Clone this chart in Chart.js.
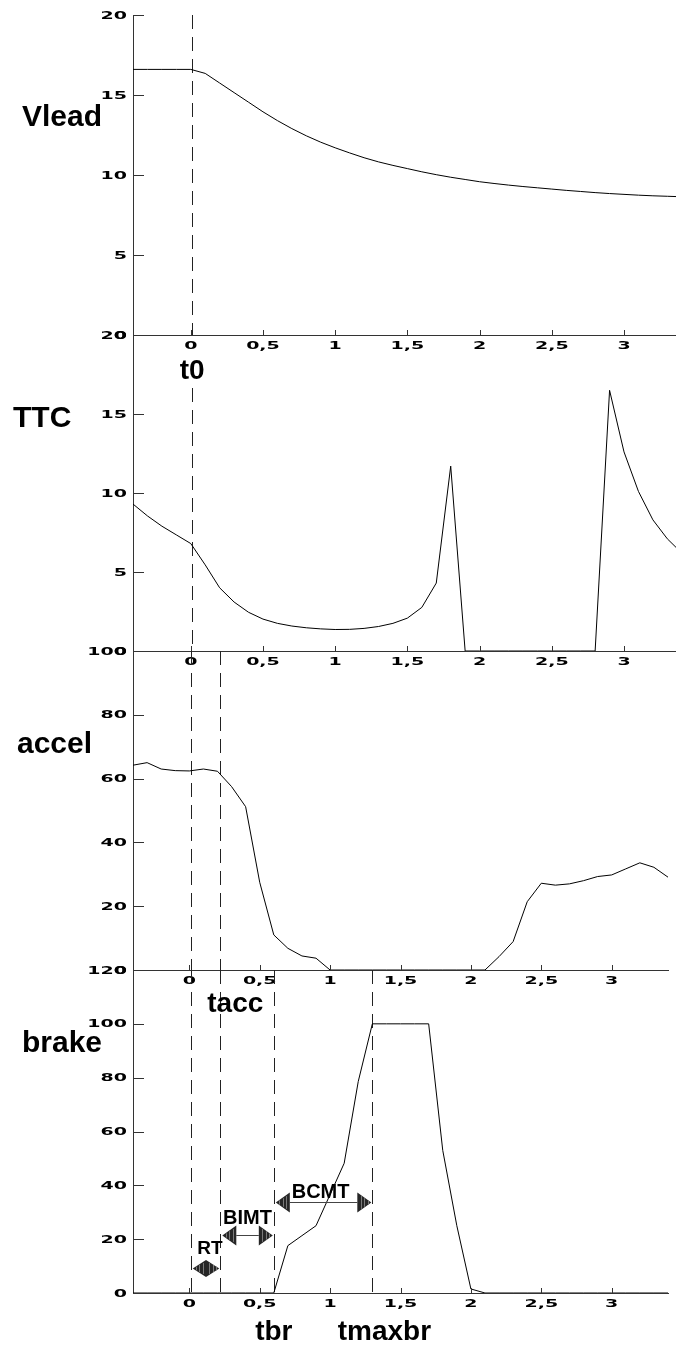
<!DOCTYPE html>
<html><head><meta charset="utf-8">
<script src="https://cdn.jsdelivr.net/npm/chart.js@4.4.1/dist/chart.umd.min.js"></script>
<style>
html,body{margin:0;padding:0;background:#fff;}
#wrap{position:relative;width:676px;height:1347px;overflow:hidden;background:#fff;}
canvas{position:absolute;left:0;}
</style></head><body><div id="wrap"></div>
<script>
// ---------- data ----------
const time = [-0.4,-0.3,-0.2,-0.1,0,0.1,0.2,0.3,0.4,0.5,0.6,0.7,0.8,0.9,1,1.1,1.2,1.3,1.4,1.5,1.6,1.7,1.8,1.9,2,2.1,2.2,2.3,2.4,2.5,2.6,2.7,2.8,2.9,3,3.1,3.2,3.3,3.4];
const vlead = [16.6,16.6,16.6,16.6,16.6,16.35,15.75,15.15,14.55,13.95,13.4,12.9,12.45,12.05,11.7,11.38,11.08,10.82,10.6,10.4,10.2,10.02,9.86,9.72,9.58,9.47,9.37,9.28,9.2,9.12,9.04,8.97,8.9,8.84,8.79,8.74,8.7,8.67,8.64];
const ttc = [9.3,8.55,7.9,7.35,6.8,5.45,4.0,3.1,2.45,2.02,1.75,1.58,1.47,1.4,1.36,1.37,1.43,1.55,1.75,2.08,2.76,4.3,11.7,0,0,0,0,0,0,0,0,0,0,16.5,12.6,10.1,8.3,7.1,6.2];
const accel = [64.2,65.0,63.0,62.5,62.4,63.0,62.3,57.5,51.2,27.5,11.0,6.8,4.4,3.7,0,0,0,0,0,0,0,0,0,0,0,0,4.2,8.9,21.4,27.2,26.6,27.0,28.0,29.3,29.8,31.7,33.6,32.2,29.1];
const brake = [0,0,0,0,0,0,0,0,0,0,0,17.6,21.3,25.0,36.6,48.2,78.6,100,100,100,100,100,53,25,1.5,0,0,0,0,0,0,0,0,0,0,0,0,0,0];

const xTicks = [0,0.5,1,1.5,2,2.5,3];
const xTickLabels = ['0','0,5','1','1,5','2','2,5','3'];
const vleadTicks = [0,5,10,15,20];
const ttcTicks = [0,5,10,15,20];
const accelTicks = [0,20,40,60,80,100];
const brakeTicks = [0,20,40,60,80,100,120];

const markerNames = ['t0','tacc','tbr','tmaxbr'];
const markerTimes = [0.01,0.22,0.60,1.30];

const arrowLabels = ['RT','BIMT','BCMT'];
const arrowFrom = [0.01,0.22,0.60];
const arrowTo = [0.22,0.60,1.30];
const arrowLevel = [9.3,21.6,33.8];

// ---------- style / layout ----------
const SX = 1.9;
const TICK_FONT = 'bold 10px "DejaVu Sans"';
const arrowStyle = [{dx:4,dy:-15,font:'bold 19px "Liberation Sans"'},{dx:0,dy:-12,font:'bold 20px "Liberation Sans"'},{dx:-3,dy:-5,font:'bold 20px "Liberation Sans"'}];

const panels = [
 {data:vlead, top:15, bottom:335, xMax:3.36, padRight:0, yMax:20, yTicks:vleadTicks, title:'Vlead', titleX:22, titleY:126,
  markers:[{m:0,skip:0}], mlabels:[]},
 {data:ttc, top:335, bottom:651, xMax:3.36, padRight:0, yMax:20, yTicks:ttcTicks, title:'TTC', titleX:13, titleY:427,
  markers:[{m:0,skip:53}], mlabels:[{m:0,dx:0,dy:44,ref:'top'}]},
 {data:accel, top:651, bottom:970, xMax:3.40, padRight:8, yMax:100, yTicks:accelTicks, title:'accel', titleX:17, titleY:753,
  markers:[{m:0,skip:0},{m:1,skip:0}], mlabels:[]},
 {data:brake, top:970, bottom:1293, xMax:3.40, padRight:8, yMax:120, yTicks:brakeTicks, title:'brake', titleX:22, titleY:1052,
  markers:[{m:0,skip:0},{m:1,skip:0},{m:2,skip:0},{m:3,skip:0}],
  mlabels:[{m:1,dx:15,dy:42,ref:'top'},{m:2,dx:0,dy:47,ref:'bottom'},{m:3,dx:12,dy:47,ref:'bottom'}], arrows:true}
];

function wide(ctx, str, x, y, align){
  ctx.save();
  ctx.font = TICK_FONT;
  const w = ctx.measureText(str).width*SX;
  const left = align==='right' ? x-w : (align==='center' ? x-w/2 : x);
  ctx.translate(left, y);
  ctx.scale(SX,1);
  ctx.textAlign='left'; ctx.textBaseline='middle'; ctx.fillStyle='#000';
  ctx.fillText(str,0,0);
  ctx.restore();
}

function head(ctx, tipX, y, dir, w, h){
  ctx.beginPath();
  ctx.moveTo(tipX, y);
  ctx.lineTo(tipX - dir*w, y - h);
  ctx.lineTo(tipX - dir*w, y + h);
  ctx.closePath();
  ctx.fillStyle='#262626'; ctx.fill();
  ctx.strokeStyle='#7a7a7a'; ctx.lineWidth=1;
  for(let k=1;k<=3;k++){
    const sx = Math.round(tipX - dir*w*k/4)+0.5, hh = h*k/4*0.85;
    ctx.beginPath(); ctx.moveTo(sx,y-hh); ctx.lineTo(sx,y+hh); ctx.stroke();
  }
}

const wrap = document.getElementById('wrap');
panels.forEach((p)=>{
  const cTop = p.top - 15;
  const areaH = p.bottom - p.top;
  const cH = areaH + 15 + 55;
  const cv = document.createElement('canvas');
  cv.width = 676; cv.height = cH;
  cv.style.top = cTop+'px'; cv.style.width='676px'; cv.style.height=cH+'px';
  wrap.appendChild(cv);

  const decor = {
    id:'decor',
    beforeDatasetsDraw(chart){
      const ctx=chart.ctx, xs=chart.scales.x, a=chart.chartArea;
      ctx.save();
      ctx.strokeStyle='#222'; ctx.lineWidth=1; ctx.setLineDash([14,8]);
      p.markers.forEach(mk=>{
        const x = Math.round(xs.getPixelForValue(markerTimes[mk.m]))+0.5;
        ctx.beginPath(); ctx.moveTo(x, a.top+mk.skip); ctx.lineTo(x, a.bottom); ctx.stroke();
      });
      ctx.restore();
    },
    afterDraw(chart){
      const ctx=chart.ctx, xs=chart.scales.x, ys=chart.scales.y, a=chart.chartArea;
      ctx.save();
      // tick marks (inward)
      ctx.strokeStyle='#333'; ctx.lineWidth=1;
      p.yTicks.forEach(v=>{
        const y=Math.round(ys.getPixelForValue(v))+0.5;
        ctx.beginPath(); ctx.moveTo(a.left,y); ctx.lineTo(a.left+11,y); ctx.stroke();
      });
      xTicks.forEach(v=>{
        const x=Math.round(xs.getPixelForValue(v))+0.5;
        ctx.beginPath(); ctx.moveTo(x,a.bottom); ctx.lineTo(x,a.bottom-5); ctx.stroke();
      });
      // tick labels
      p.yTicks.forEach(v=>{ wide(ctx, String(v), a.left-6, ys.getPixelForValue(v)+1, 'right'); });
      xTicks.forEach((v,i)=>{ wide(ctx, xTickLabels[i], xs.getPixelForValue(v), a.bottom+11.5, 'center'); });
      // panel title
      ctx.fillStyle='#000'; ctx.textBaseline='alphabetic'; ctx.textAlign='left';
      ctx.font='bold 30px "Liberation Sans"';
      ctx.fillText(p.title, p.titleX, p.titleY - cTop);
      // marker labels
      ctx.font='bold 28px "Liberation Sans"'; ctx.textAlign='center';
      p.mlabels.forEach(ml=>{
        const x = xs.getPixelForValue(markerTimes[ml.m]) + ml.dx;
        const y = (ml.ref==='top' ? a.top : a.bottom) + ml.dy;
        ctx.fillText(markerNames[ml.m], x, y);
      });
      // arrows
      if(p.arrows){
        arrowLabels.forEach((lab,i)=>{
          const x1 = xs.getPixelForValue(arrowFrom[i]) + 2;
          const x2 = xs.getPixelForValue(arrowTo[i]) - 1;
          const y = Math.round(ys.getPixelForValue(arrowLevel[i]))+0.5;
          const span = x2-x1;
          const w = Math.min(14, span/2), h = span < 30 ? 8.5 : 10;
          ctx.strokeStyle='#444'; ctx.lineWidth=1;
          ctx.beginPath(); ctx.moveTo(x1+w,y); ctx.lineTo(x2-w,y); ctx.stroke();
          head(ctx, x1, y, -1, w, h);
          head(ctx, x2, y, 1, w, h);
          const st = arrowStyle[i];
          ctx.font = st.font; ctx.fillStyle='#000'; ctx.textAlign='center'; ctx.textBaseline='alphabetic';
          ctx.fillText(lab, (x1+x2)/2 + st.dx, y + st.dy);
        });
      }
      ctx.restore();
    }
  };

  new Chart(cv, {
    type:'line',
    data:{ datasets:[{ data: time.map((t,i)=>({x:t, y:p.data[i]})), borderColor:'#000', borderWidth:1, pointRadius:0, tension:0, fill:false }] },
    options:{
      responsive:false, animation:false, devicePixelRatio:1, events:[],
      layout:{ padding:{ top:15, bottom:55, left:0, right:p.padRight } },
      plugins:{ legend:{display:false}, tooltip:{enabled:false} },
      scales:{
        x:{ type:'linear', min:-0.4, max:p.xMax, ticks:{display:false},
            grid:{display:true, drawOnChartArea:false, drawTicks:false},
            border:{display:true, color:'#333', width:1},
            afterFit(s){ s.height = 0; } },
        y:{ type:'linear', min:0, max:p.yMax, ticks:{display:false},
            grid:{display:true, drawOnChartArea:false, drawTicks:false},
            border:{display:true, color:'#333', width:1},
            afterFit(s){ s.width = 133; } }
      }
    },
    plugins:[decor]
  });
});
</script>
</body></html>
